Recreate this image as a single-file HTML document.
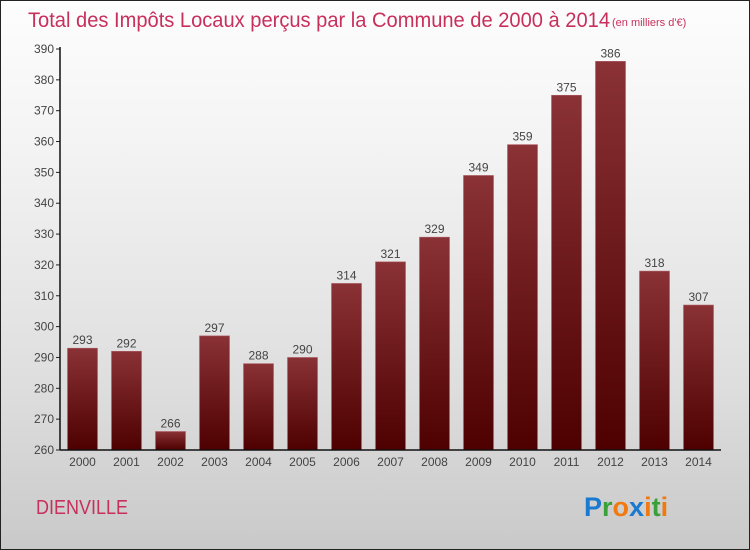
<!DOCTYPE html>
<html><head><meta charset="utf-8"><style>
html,body{margin:0;padding:0}
body{width:750px;height:550px;overflow:hidden;font-family:"Liberation Sans",sans-serif}
#wrap{position:absolute;left:0;top:0;width:748px;height:548px;border:1px solid #222;background:linear-gradient(#fdfdfd,#f4f4f4 25%,#dedede 70%,#c9c9c9)}
</style></head><body>
<div id="wrap">
<svg width="750" height="550" style="position:absolute;left:-1px;top:-1px">
<defs>
<linearGradient id="bg" x1="0" y1="0" x2="0" y2="1"><stop offset="0" stop-color="#8a3236"/><stop offset="1" stop-color="#4e0000"/></linearGradient>
</defs>
<text x="28" y="27" font-size="21" fill="#c8305c" font-weight="300" textLength="582" lengthAdjust="spacingAndGlyphs">Total des Impôts Locaux perçus par la Commune de 2000 à 2014</text>
<text x="612" y="26" font-size="11" fill="#c8305c">(en milliers d'€)</text>
<g id="plot"></g>
<text x="36" y="514" font-size="20" fill="#c8305c" textLength="92" lengthAdjust="spacingAndGlyphs">DIENVILLE</text>
<g font-size="27" font-family="'Liberation Sans',sans-serif" font-weight="bold">
<text x="584" y="516"><tspan fill="#1a7ad0">P</tspan><tspan fill="#3aa03a">r</tspan><tspan fill="#f07a10">o</tspan><tspan fill="#1a7ad0">x</tspan><tspan fill="#f07a10">i</tspan><tspan fill="#3aa03a">t</tspan><tspan fill="#f07a10">i</tspan></text>
</g>
</svg>
</div>
<script>
const years=["2000","2001","2002","2003","2004","2005","2006","2007","2008","2009","2010","2011","2012","2013","2014"];
const values=[293,292,266,297,288,290,314,321,329,349,359,375,386,318,307];
const yTicks=[260,270,280,290,300,310,320,330,340,350,360,370,380,390];
const NS="http://www.w3.org/2000/svg";
const g=document.getElementById('plot');
const yMin=260,yMax=390,yTop=49,yBot=450,axX=60,x0=82.5,step=44;
function y(v){return yBot-(v-yMin)/(yMax-yMin)*(yBot-yTop);}
function xc(i){return x0+i*step;}
function mk(t,a){const e=document.createElementNS(NS,t);for(const k in a)e.setAttribute(k,a[k]);g.appendChild(e);return e;}
yTicks.forEach(v=>{
 const t=mk('line',{x1:axX-4,x2:axX,y1:y(v),y2:y(v),stroke:'#222'});
 
 
 const l=mk('text',{x:axX-6,y:y(v)+4,'font-size':12,fill:'#444','text-anchor':'end'});
 l.textContent=v;
 
 
});
values.forEach((v,i)=>{
 const r=mk('rect',{x:xc(i)-15,y:y(v),width:30,height:yBot-y(v),fill:'url(#bg)',stroke:'#b06068','stroke-width':0.6});
 
 
 const l=mk('text',{x:xc(i),y:y(v)-4,'font-size':12,fill:'#444','text-anchor':'middle'});
 l.textContent=v;
 
 
 const xl=mk('text',{x:xc(i),y:yBot+16,'font-size':12,fill:'#444','text-anchor':'middle'});
 xl.textContent=years[i];
 
 
});
const ya=mk('line',{x1:axX,x2:axX,y1:yTop-2,y2:yBot,stroke:'#111','stroke-width':1.5});


const xa=mk('line',{x1:axX,x2:721,y1:yBot,y2:yBot,stroke:'#111','stroke-width':1.5});


</script>
</body></html>
